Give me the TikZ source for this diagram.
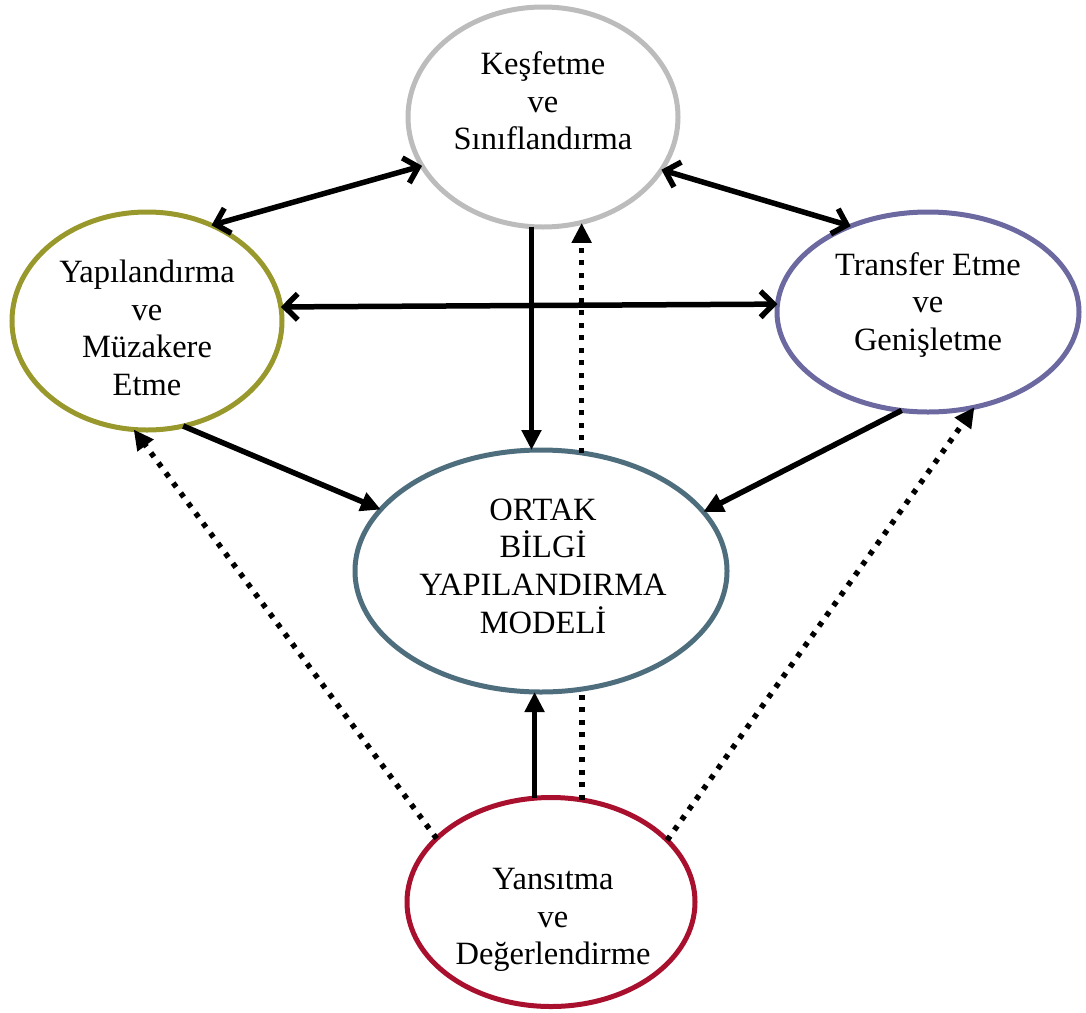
\documentclass[tikz,border=0pt]{standalone}
\usepackage{fontspec}
\setmainfont{Liberation Serif}
\usetikzlibrary{arrows.meta,shapes.geometric}
\definecolor{ovalGray}{RGB}{188,188,188}
\definecolor{ovalOlive}{RGB}{152,152,44}
\definecolor{ovalPurple}{RGB}{108,104,160}
\definecolor{ovalSlate}{RGB}{78,110,126}
\definecolor{ovalCrimson}{RGB}{168,16,46}
\begin{document}
\begin{tikzpicture}[x=1pt,y=-1pt,
  oval/.style={ellipse, draw, line width=5pt, inner sep=0pt, outer sep=0pt},
  caption/.style={align=center, inner sep=0pt, font=\fontsize{32.5}{37.7}\selectfont},
  tip/.style={-{Triangle[length=20pt,width=19pt]}},
  onearrow/.style={line width=5.5pt, tip},
  twoway/.style={line width=5.5pt, {Straight Barb[length=13pt,width=26pt]}-{Straight Barb[length=13pt,width=26pt]}},
  dotline/.style={line width=5.5pt, dash pattern=on 5pt off 7.5pt},
]
\useasboundingbox (0,0) rectangle (1086,1012);

% the five stages
\node[oval, draw=ovalGray,    minimum width=270pt, minimum height=220pt] (T) at (543,117) {};
\node[oval, draw=ovalOlive,   minimum width=270pt, minimum height=218pt] (L) at (147,321) {};
\node[oval, draw=ovalPurple,  minimum width=302pt, minimum height=200pt] (R) at (928,312) {};
\node[oval, draw=ovalSlate,   minimum width=372pt, minimum height=242pt] (C) at (541,571) {};
\node[oval, draw=ovalCrimson, minimum width=288pt, minimum height=209pt] (B) at (551,902) {};

\node[caption] (Ttext) at (543,101) {Keşfetme\\ve\\Sınıflandırma};
\node[caption] (Ltext) at (147,328) {Yapılandırma\\ve\\Müzakere\\Etme};
\node[caption] (Rtext) at (928,305) {Transfer Etme\\ve\\Genişletme};
\node[caption] (Ctext) at (543,566) {ORTAK\\BİLGİ\\YAPILANDIRMA\\MODELİ};
\node[caption] (Btext) at (553,920) {Yansıtma\\ve\\Değerlendirme};

% two-way links between the outer stages
\draw[twoway] (L.56.7) -- (T.202.5);
\draw[twoway] (T.336.5) -- (R.132.1);
\draw[twoway] (L.6.8) -- (R.177.3);

% links into and out of the centre
\draw[onearrow] (T.264.3) -- (T.264.3 |- C.north);
\draw[dotline, tip] (C.71.75) -- (C.71.75 |- T.289.3);
\draw[onearrow] (L.289.7) -- (C.159);
\draw[onearrow] (R.255.4) -- (C.20.8);
\draw[onearrow] (B.99.8) -- (B.99.8 |- C.south);
\draw[dotline] (B.73.2) -- (B.73.2 |- C.south);

% reflection feeds back to the outer stages
\draw[dotline, tip] (B.151) -- (L.263.7);
\draw[dotline, tip] (B.28.1) -- (R.296.6);
\end{tikzpicture}
\end{document}
